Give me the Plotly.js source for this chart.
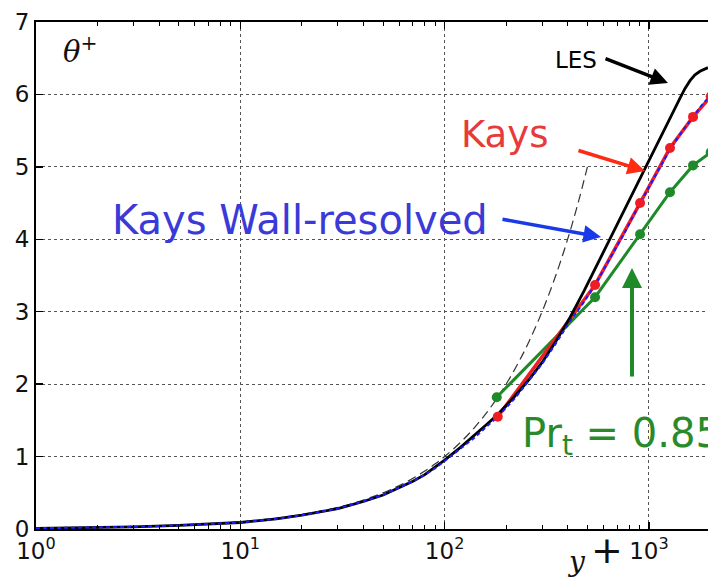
<!DOCTYPE html>
<html>
<head>
<meta charset="utf-8">
<script src="https://cdn.plot.ly/plotly-3.0.1.min.js"></script>
<style>
  html, body { margin: 0; padding: 0; background: #fff; }
  #chart { width: 708px; height: 583px; }
</style>
</head>
<body>
<div id="chart"></div>
<script>
// Near-wall temperature profiles θ+ versus wall distance y+

// Linear conduction law (thin dashed line)
const linYPlus = [1, 1.5, 2, 3, 5, 7, 10, 15, 20, 30, 40, 50, 60, 70, 80, 90, 100, 120, 140, 160, 180, 200, 230, 260, 300, 340, 380, 420, 460, 500];
const linTheta = [0.01, 0.015, 0.02, 0.03, 0.05, 0.07, 0.1, 0.15, 0.2, 0.3, 0.4, 0.5, 0.6, 0.7, 0.8, 0.9, 1.0, 1.2, 1.4, 1.6, 1.8, 2.0, 2.3, 2.6, 3.0, 3.4, 3.8, 4.2, 4.6, 5.0];

// LES reference profile
const lesYPlus = [1, 2, 3, 5, 7, 10, 15, 20, 30, 40, 50, 60, 70, 80, 90, 100, 120, 140, 160, 182, 220, 260, 300, 350, 411, 480, 545, 646, 750, 850, 1012, 1150, 1300, 1420, 1500, 1589, 1680, 1778, 1860, 1946];
const lesTheta = [0.01, 0.02, 0.03, 0.05, 0.07, 0.09, 0.14, 0.19, 0.28, 0.38, 0.47, 0.57, 0.66, 0.75, 0.85, 0.95, 1.13, 1.29, 1.44, 1.58, 1.83, 2.07, 2.3, 2.59, 2.92, 3.28, 3.59, 4.01, 4.38, 4.69, 5.1, 5.42, 5.73, 5.95, 6.08, 6.19, 6.27, 6.32, 6.35, 6.37];

// Kays model, wall-resolved
const wrYPlus = [1, 2, 3, 5, 7, 10, 15, 20, 30, 40, 50, 60, 70, 80, 90, 100, 120, 140, 160, 182, 220, 260, 300, 350, 411, 480, 545, 646, 750, 905, 1012, 1150, 1268, 1420, 1644, 1800, 1946];
const wrTheta = [0.01, 0.02, 0.03, 0.05, 0.07, 0.09, 0.14, 0.19, 0.28, 0.38, 0.47, 0.57, 0.66, 0.75, 0.84, 0.94, 1.11, 1.26, 1.41, 1.55, 1.8, 2.05, 2.28, 2.56, 2.87, 3.13, 3.37, 3.74, 4.06, 4.5, 4.75, 5.02, 5.24, 5.45, 5.69, 5.84, 5.95];

// Kays model (wall-modelled, markers on the LES grid)
const kaysYPlus = [182, 545, 905, 1268, 1644, 2006];
const kaysTheta = [1.55, 3.37, 4.5, 5.26, 5.69, 5.97];

// Constant turbulent Prandtl number Pr_t = 0.85
const prtYPlus = [180, 545, 905, 1268, 1644, 2006];
const prtTheta = [1.82, 3.2, 4.07, 4.65, 5.02, 5.2];

// Axis ticks
const decadeVals = [1, 10, 100, 1000];
const decadeText = ['10<sup>0</sup>', '10<sup>1</sup>', '10<sup>2</sup>', '10<sup>3</sup>'];
const yTickVals = [0, 1, 2, 3, 4, 5, 6, 7];

const minorVals = [];
decadeVals.forEach(d => { for (let k = 2; k <= 9; k++) minorVals.push(k * d); });

// Plot-area geometry in pixels, used to place the call-out text and arrows
const W = 708, H = 583;
const M = { l: 36, r: 0, t: 22, b: 54 };
const PW = W - M.l - M.r, PH = H - M.t - M.b;
const px = x => (x - M.l) / PW;
const py = y => (H - M.b - y) / PH;

const RED = '#f01c24', GREEN = '#1f8a2a';

const traces = [
  { x: linYPlus, y: linTheta, mode: 'lines', name: 'linear',
    line: { color: '#333', width: 1.2, dash: '9px,5px', shape: 'spline' } },
  { x: prtYPlus, y: prtTheta, mode: 'lines+markers', name: 'Pr_t = 0.85',
    line: { color: GREEN, width: 3 },
    marker: { color: GREEN, size: 10, line: { width: 0 } } },
  { x: kaysYPlus, y: kaysTheta, mode: 'lines', name: 'Kays',
    line: { color: RED, width: 3.5 } },
  { x: lesYPlus, y: lesTheta, mode: 'lines', name: 'LES',
    line: { color: '#000', width: 2.8 } },
  { x: wrYPlus, y: wrTheta, mode: 'lines', name: 'Kays Wall-resolved',
    line: { color: '#1a1aff', width: 2, dash: '4px,3px' } },
  { x: kaysYPlus, y: kaysTheta, mode: 'markers', name: 'Kays points',
    marker: { color: RED, size: 10, line: { width: 0 } } }
];

const textFont = 'DejaVu Sans, sans-serif';

const annotations = [
  // axis symbols
  { xref: 'paper', yref: 'paper', x: px(61), y: py(50), xanchor: 'left', yanchor: 'middle',
    text: '<i>θ</i><sup>+</sup>', showarrow: false,
    font: { family: 'DejaVu Serif, serif', size: 29, color: '#111' } },
  { xref: 'paper', yref: 'paper', x: px(576), y: py(561), xanchor: 'center', yanchor: 'middle',
    text: '<i>y</i>', showarrow: false,
    font: { family: 'DejaVu Serif, serif', size: 28, color: '#111' } },
  { xref: 'paper', yref: 'paper', x: px(607), y: py(550), xanchor: 'center', yanchor: 'middle',
    text: '+', showarrow: false,
    font: { family: 'DejaVu Sans, sans-serif', size: 38, color: '#111' } },

  // labels
  { xref: 'paper', yref: 'paper', x: px(553), y: py(60), xanchor: 'left', yanchor: 'middle',
    text: 'LES', showarrow: false, font: { family: textFont, size: 23, color: '#000' } },
  { xref: 'paper', yref: 'paper', x: px(459), y: py(134), xanchor: 'left', yanchor: 'middle',
    text: 'Kays', showarrow: false, font: { family: textFont, size: 37, color: '#e83a3a' } },
  { xref: 'paper', yref: 'paper', x: px(110), y: py(220), xanchor: 'left', yanchor: 'middle',
    text: 'Kays Wall-resolved', showarrow: false, font: { family: textFont, size: 40, color: '#3a3ad8' } },
  { xref: 'paper', yref: 'paper', x: px(520), y: py(436), xanchor: 'left', yanchor: 'middle',
    text: 'Pr<sub>t</sub> = 0.85', showarrow: false, font: { family: textFont, size: 40, color: '#2a8a2a' } },

  // arrows
  { xref: 'paper', yref: 'paper', x: px(668), y: py(83), ax: -64, ay: -25, text: '',
    showarrow: true, arrowhead: 2, arrowsize: 1, arrowwidth: 3.5, arrowcolor: '#000' },
  { xref: 'paper', yref: 'paper', x: px(645), y: py(171), ax: -68, ay: -21, text: '',
    showarrow: true, arrowhead: 2, arrowsize: 1, arrowwidth: 3.5, arrowcolor: '#ff2a12' },
  { xref: 'paper', yref: 'paper', x: px(601), y: py(237), ax: -100, ay: -18, text: '',
    showarrow: true, arrowhead: 2, arrowsize: 1, arrowwidth: 3.5, arrowcolor: '#1a3ae8' },
  { xref: 'paper', yref: 'paper', x: px(632), y: py(268), ax: 0, ay: 110, text: '',
    showarrow: true, arrowhead: 2, arrowsize: 1, arrowwidth: 4, arrowcolor: GREEN }
];

const layout = {
  width: W, height: H,
  margin: M,
  paper_bgcolor: '#fff', plot_bgcolor: '#fff',
  showlegend: false,
  font: { family: 'DejaVu Sans, sans-serif', size: 23, color: '#111' },
  xaxis: {
    type: 'log',
    range: [0, Math.log10(1946)],
    tickmode: 'array', tickvals: decadeVals, ticktext: decadeText,
    ticks: 'inside', ticklen: 7, tickwidth: 1.5, tickcolor: '#000',
    showline: true, linecolor: '#000', linewidth: 2, mirror: 'allticks',
    showgrid: true, gridcolor: '#555', gridwidth: 1, griddash: 'dot',
    zeroline: false,
    minor: { tickmode: 'array', tickvals: minorVals, ticks: 'inside', ticklen: 4,
             tickwidth: 1, tickcolor: '#000', showgrid: false },
    tickfont: { size: 23, color: '#111' }
  },
  yaxis: {
    range: [0, 7],
    tickmode: 'array', tickvals: yTickVals,
    ticks: 'inside', ticklen: 7, tickwidth: 1.5, tickcolor: '#000',
    showline: true, linecolor: '#000', linewidth: 2, mirror: false,
    showgrid: true, gridcolor: '#555', gridwidth: 1, griddash: 'dot',
    zeroline: false,
    tickfont: { size: 23, color: '#111' }
  },
  annotations: annotations
};

Plotly.newPlot('chart', traces, layout, { staticPlot: true, displayModeBar: false });
</script>
</body>
</html>
